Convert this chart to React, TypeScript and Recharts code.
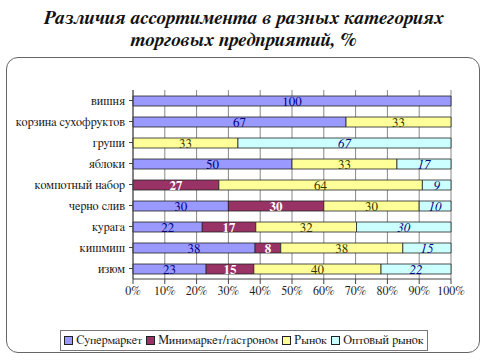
import React from "react";
import { BarChart, Bar, XAxis, YAxis, CartesianGrid, LabelList } from "recharts";

const categories = [
  "вишня",
  "корзина сухофруктов",
  "груши",
  "яблоки",
  "компотный набор",
  "черно слив",
  "курага",
  "кишмиш",
  "изюм",
];

const supermarket = [100, 67, 0, 50, 0, 30, 22, 38, 23];
const minimarket = [0, 0, 0, 0, 27, 30, 17, 8, 15];
const rynok = [0, 33, 33, 33, 64, 30, 32, 38, 40];
const optovy = [0, 0, 67, 17, 9, 10, 30, 15, 22];

const xTicks = [0, 0.1, 0.2, 0.3, 0.4, 0.5, 0.6, 0.7, 0.8, 0.9, 1];

interface SeriesDef {
  key: string;
  name: string;
  color: string;
  labelColor: string;
  italic?: boolean;
}

const series: SeriesDef[] = [
  { key: "s", name: "Супермаркет", color: "#9999FF", labelColor: "#000080" },
  { key: "m", name: "Минимаркет/гастроном", color: "#993366", labelColor: "#FFFFFF" },
  { key: "r", name: "Рынок", color: "#FFFF99", labelColor: "#333300" },
  { key: "o", name: "Оптовый рынок", color: "#CCFFFF", labelColor: "#000080", italic: true },
];

const data = categories.map((name, i) => ({
  name,
  s: supermarket[i],
  m: minimarket[i],
  r: rynok[i],
  o: optovy[i],
}));

const FONT = "FreeSerif, 'Liberation Serif', serif";

// category label on one line (no wrapping)
const CategoryTick = (props: any) => {
  const { x, y, payload } = props;
  return (
    <text x={x - 2} y={y} dy={4} textAnchor="end" fontSize={12.3} fill="#222" fontFamily={FONT}>
      {payload.value}
    </text>
  );
};

const App: React.FC = () => {
  return (
    <div style={{ position: "absolute", left: 0, top: 0, width: 487, height: 360, background: "#fff", fontFamily: FONT }}>
      <div
        style={{
          position: "absolute",
          top: 7,
          left: 0,
          width: 487,
          textAlign: "center",
          fontWeight: "bold",
          fontStyle: "italic",
          fontSize: 19.5,
          lineHeight: "22px",
          color: "#111",
        }}
      >
        Различия ассортимента в разных категориях
        <br />
        торговых предприятий, %
      </div>

      <div
        style={{
          position: "absolute",
          left: 6,
          top: 57,
          width: 474,
          height: 296,
          border: "1.5px solid #666",
          borderRadius: 12,
          boxSizing: "border-box",
        }}
      />

      <div style={{ position: "absolute", left: 0, top: 0 }}>
        <BarChart
          width={487}
          height={330}
          data={data}
          layout="vertical"
          stackOffset="expand"
          barSize={10}
          margin={{ top: 90, right: 36, bottom: 21, left: 0 }}
        >
          <CartesianGrid horizontal={false} stroke="#888" />
          <XAxis
            type="number"
            domain={[0, 1]}
            ticks={xTicks}
            tickFormatter={(v) => `${Math.round(v * 100)}%`}
            tick={{ fontSize: 12, fill: "#222", fontFamily: FONT }}
            stroke="#444"
            tickSize={5}
            interval={0}
            height={30}
          />
          <YAxis
            type="category"
            dataKey="name"
            width={133}
            tick={<CategoryTick />}
            stroke="#444"
            tickSize={4}
            interval={0}
          />
          {series.map((s) => (
            <Bar
              key={s.key}
              dataKey={s.key}
              name={s.name}
              stackId="a"
              fill={s.color}
              stroke="#222"
              strokeWidth={0.8}
              isAnimationActive={false}
            >
              <LabelList
                dataKey={s.key}
                position="center"
                formatter={(v: any) => (v ? String(v) : "")}
                style={{
                  fill: s.labelColor,
                  fontSize: 13,
                  fontFamily: FONT,
                  fontStyle: s.italic ? "italic" : "normal",
                  fontWeight: s.key === "m" ? "bold" : "normal",
                }}
              />
            </Bar>
          ))}
        </BarChart>
      </div>

      <div
        style={{
          position: "absolute",
          left: 60,
          top: 330,
          width: 368,
          height: 21,
          border: "1px solid #777",
          boxSizing: "border-box",
          display: "flex",
          alignItems: "center",
          justifyContent: "center",
          gap: 4,
          fontSize: 12.2,
          color: "#222",
          whiteSpace: "nowrap",
        }}
      >
        {series.map((s) => (
          <span key={s.key} style={{ display: "flex", alignItems: "center" }}>
            <span
              style={{
                display: "inline-block",
                width: 7,
                height: 7,
                background: s.color,
                border: "1px solid #222",
                marginRight: 3,
              }}
            />
            {s.name}
          </span>
        ))}
      </div>
    </div>
  );
};

export default App;
